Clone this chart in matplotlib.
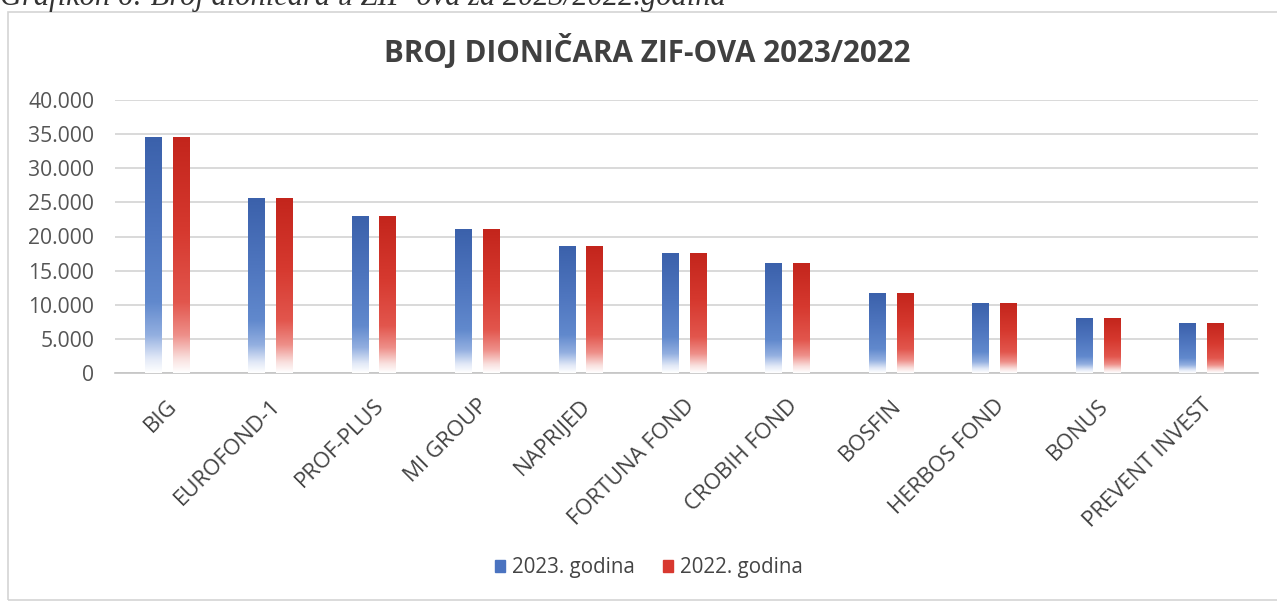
import numpy as np
import matplotlib
matplotlib.use("Agg")
import matplotlib.pyplot as plt
from matplotlib.colors import LinearSegmentedColormap
from matplotlib.patches import Rectangle
from matplotlib.ticker import FuncFormatter

plt.rcParams['font.family'] = ['Open Sans', 'DejaVu Sans']

# data
fondovi = ['BIG', 'EUROFOND-1', 'PROF-PLUS', 'MI GROUP', 'NAPRIJED', 'FORTUNA FOND',
           'CROBIH FOND', 'BOSFIN', 'HERBOS FOND', 'BONUS', 'PREVENT INVEST']
god_2023 = [34500, 25500, 23000, 21000, 18600, 17500, 16000, 11600, 10200, 8000, 7200]
god_2022 = [34500, 25500, 23000, 21000, 18600, 17500, 16000, 11600, 10200, 8000, 7200]
serije = ['2023. godina', '2022. godina']

# vertical gradient, white at the bottom of each bar
stops = [0.0, 0.06, 0.16, 0.3, 0.6, 1.0]
plava = ['#ffffff', '#e2e9f7', '#93afe0', '#6189cd', '#4f76bf', '#3b61ab']
crvena = ['#ffffff', '#f9e0de', '#ee8f89', '#e2564d', '#d6392f', '#c3251c']
cm_plava = LinearSegmentedColormap.from_list('plava', list(zip(stops, plava)))
cm_crvena = LinearSegmentedColormap.from_list('crvena', list(zip(stops, crvena)))

fig = plt.figure(figsize=(12.77, 6.02), dpi=100)
fig.patch.set_facecolor('white')

# frame of the chart area
fig.patches.append(Rectangle((8 / 1277, 2 / 602), 1.0, 588 / 602, transform=fig.transFigure,
                             fill=False, edgecolor='#d4d4d4', linewidth=1.2))

# caption cut off at the top of the scan
fig.text(0.0, 1.004, 'Grafikon 6: Broj dioničara u ZIF-ova za 2023/2022.godina',
         fontsize=22, style='italic', family='Liberation Serif', color='#333333',
         ha='left', va='center')

ax = fig.add_axes([115 / 1277, 1 - 373 / 602, 1143 / 1277, 273 / 602])
x = np.arange(len(fondovi))
sirina = 0.155
pomak = 0.134

grad = np.linspace(0, 1, 256).reshape(-1, 1)
for vrijednosti, cmap, znak in [(god_2023, cm_plava, -1), (god_2022, cm_crvena, 1)]:
    for xi, v in zip(x, vrijednosti):
        x0 = xi + znak * pomak - sirina / 2
        ax.imshow(grad, cmap=cmap, origin='lower', aspect='auto',
                  extent=[x0, x0 + sirina, 0, v], zorder=3, interpolation='bilinear')

ax.set_xlim(-0.5, len(fondovi) - 0.5 + 0.05)
ax.set_ylim(0, 40000)
ax.set_yticks(np.arange(0, 40001, 5000))
ax.yaxis.set_major_formatter(FuncFormatter(lambda v, p: f'{int(v):,}'.replace(',', '.')))
ax.grid(axis='y', color='#d0d0d0', linewidth=1.1, zorder=0)
ax.set_axisbelow(True)
for s in ['top', 'right', 'left']:
    ax.spines[s].set_visible(False)
ax.spines['bottom'].set_color('#c4c4c4')
ax.spines['bottom'].set_linewidth(1.2)
ax.tick_params(axis='both', length=0, colors='#555555', labelsize=15.2)
ax.tick_params(axis='y', pad=15)

ax.set_xticks(x)
ax.set_xticklabels(fondovi, rotation=45, ha='right', rotation_mode='anchor',
                   fontsize=16, color='#444444')
ax.tick_params(axis='x', pad=16)

fig.text(0.507, 1 - 51 / 602, 'BROJ DIONIČARA ZIF-OVA 2023/2022', fontsize=21.3,
         fontweight='bold', color='#404040', ha='center', va='center')

ruke = [Rectangle((0, 0), 1, 1, color='#4a73c0'), Rectangle((0, 0), 1, 1, color='#d8382f')]
fig.legend(ruke, serije, loc='center', bbox_to_anchor=(0.508, 1 - 568 / 602), ncol=2,
           frameon=False, fontsize=14.8, handlelength=0.5, handleheight=0.5,
           handletextpad=0.3, columnspacing=1.4, labelcolor='#444444')

fig.savefig('out.png', dpi=100)
